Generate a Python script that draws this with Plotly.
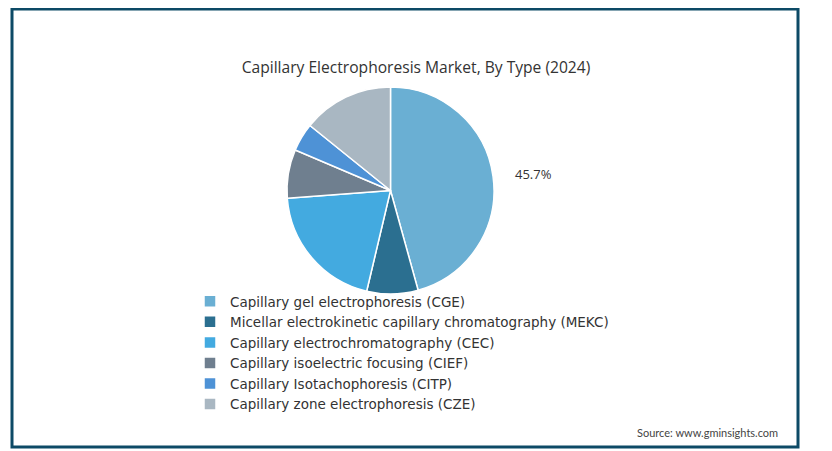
import plotly.graph_objects as go

W, H = 832, 451
OFF = 8  # page body margin offset of the rendered figure

labels = [
    "Capillary gel electrophoresis (CGE)",
    "Micellar electrokinetic capillary chromatography (MEKC)",
    "Capillary electrochromatography (CEC)",
    "Capillary isoelectric focusing (CIEF)",
    "Capillary Isotachophoresis (CITP)",
    "Capillary zone electrophoresis (CZE)",
]
values = [45.7, 8.0, 20.1, 7.6, 4.4, 14.2]
colors = ["#6aafd3", "#2b6f90", "#43aae0", "#6f7f8f", "#4e92d6", "#a9b7c2"]


def px(x):
    return (x - OFF) / W


def py(y):
    return 1 - (y - OFF) / H


fig = go.Figure(go.Pie(
    labels=labels,
    values=values,
    sort=False,
    direction="clockwise",
    rotation=0,
    marker=dict(colors=colors, line=dict(color="white", width=1.5)),
    textinfo="none",
    hoverinfo="label+percent",
    domain=dict(x=[px(287), px(494)], y=[py(294), py(87)]),
))

fig.update_layout(
    width=W, height=H,
    margin=dict(l=0, r=0, t=0, b=0),
    paper_bgcolor="white",
    plot_bgcolor="white",
    title=dict(
        text="Capillary Electrophoresis Market, By Type (2024)",
        x=px(416), xanchor="center", y=py(68), yanchor="middle",
        font=dict(family="Open Sans", size=15.6, color="#333333"),
    ),
    legend=dict(
        x=px(190), xanchor="left", y=py(286), yanchor="top",
        font=dict(family="DejaVu Sans", size=13.5, color="#333333"),
        bgcolor="rgba(0,0,0,0)",
        itemclick=False,
    ),
    showlegend=True,
    shapes=[dict(
        type="rect", xref="paper", yref="paper",
        x0=px(12), x1=px(798), y0=py(447), y1=py(9),
        line=dict(color="#0d4a66", width=3),
        fillcolor="rgba(0,0,0,0)",
    )],
    annotations=[
        dict(
            text="Source: www.gminsights.com",
            xref="paper", yref="paper",
            x=px(780), xanchor="right", y=py(432), yanchor="middle",
            showarrow=False,
            font=dict(family="Lato", size=11, color="#444444"),
        ),
        dict(
            text=f"{values[0]}%",
            xref="paper", yref="paper",
            x=px(533), xanchor="center", y=py(174), yanchor="middle",
            showarrow=False,
            font=dict(family="Open Sans", size=13, color="#333333"),
        ),
    ],
)

fig.write_html("out.html")
